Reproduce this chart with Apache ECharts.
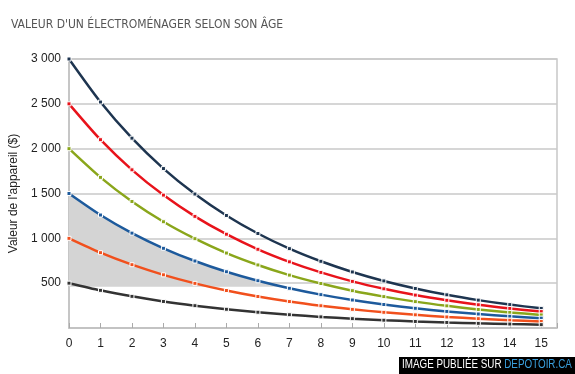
<!DOCTYPE html>
<html><head><meta charset="utf-8">
<script src="https://cdn.jsdelivr.net/npm/echarts@6/dist/echarts.min.js"></script>
<style>html,body{margin:0;padding:0;background:#fff}#c{width:575px;height:374px}</style>
</head><body><div id="c"></div>
<script>
const years = [0,1,2,3,4,5,6,7,8,9,10,11,12,13,14,15];
const s3000 = [3000,2520,2117,1778,1494,1255,1054,885,744,625,525,441,370,311,261,219];
const s2500 = [2500,2100,1764,1482,1245,1046,878,738,620,520,437,367,309,259,218,183];
const s2000 = [2000,1680,1411,1185,996,836,703,590,496,416,350,294,247,207,174,146];
const s1500 = [1500,1260,1058,889,747,627,527,443,372,312,262,220,185,156,131,110];
const s1000 = [1000,840,706,593,498,418,351,295,248,208,175,147,123,104,87,73];
const s500  = [500,420,353,296,249,209,176,148,124,104,87,73,62,52,44,37];
const bandFloor = 460;
const bandX = [0,1,2,3,4,5,6,6.8];
const bandY = [1500,1260,1058,889,747,627,527,460];
const colors = ['#1e3550','#e8131b','#8aa61b','#1d5a9c','#f1501d','#333333'];
const seriesData = [s3000,s2500,s2000,s1500,s1000,s500];

const chart = echarts.init(document.getElementById('c'));
const lines = seriesData.map((d,i)=>({
  type:'line', data: years.map((x,j)=>[x,d[j]]), smooth:0.25,
  symbol:'rect', symbolSize:4, showSymbol:true,
  lineStyle:{color:colors[i], width:2.5},
  itemStyle:{color:colors[i], borderColor:'#ffffff', borderWidth:1},
  z:5, silent:true
}));
chart.setOption({
  animation:false,
  title:{text:"VALEUR D'UN ÉLECTROMÉNAGER SELON SON ÂGE", left:6, top:14,
    textStyle:{fontFamily:'DejaVu Sans Condensed', fontSize:12, fontWeight:'normal', color:'#555'}},
  grid:{left:69, right:18, top:59, bottom:46, show:true, borderColor:'#c8c8c8', borderWidth:1.5},
  xAxis:{type:'value', min:0, max:15.5, interval:1,
    axisLine:{show:true, lineStyle:{color:'#c0c0c0', width:1.5}},
    axisTick:{show:true, inside:true, length:5, lineStyle:{color:'#aaa'}},
    splitLine:{show:false},
    axisLabel:{color:'#222', fontFamily:'Liberation Sans', fontSize:12, margin:10,
      formatter:v=> (Number.isInteger(v) && v<=15) ? String(v) : ''}},
  yAxis:{type:'value', min:0, max:3000, interval:500,
    name:"Valeur de l'appareil ($)", nameLocation:'middle', nameGap:41,
    nameTextStyle:{color:'#222', fontFamily:'Liberation Sans', fontSize:12},
    axisLine:{show:true, lineStyle:{color:'#c0c0c0', width:1.5}},
    axisTick:{show:false},
    splitLine:{lineStyle:{color:'#c8c8c8', width:1.5}},
    axisLabel:{color:'#222', fontFamily:'Liberation Sans', fontSize:12, margin:8,
      formatter:v=> v===0 ? '' : (v>=1000 ? Math.floor(v/1000)+' '+String(v%1000).padStart(3,'0') : String(v))}},
  graphic:[
    {type:'rect', x:399, y:357, shape:{width:176, height:17}, style:{fill:'#000'}, z:100},
    {type:'text', x:402, y:359, scaleX:0.82, z:101, style:{
      text:'{a|IMAGE PUBLIÉE SUR }{b|DEPOTOIR.CA}',
      rich:{a:{fill:'#fff', fontFamily:'Liberation Sans', fontSize:12},
            b:{fill:'#3a9fdc', fontFamily:'Liberation Sans', fontSize:12}}}}
  ],
  series:[
    {type:'line', data: bandX.map((x,j)=>[x,bandY[j]]), smooth:0.25, symbol:'none',
      lineStyle:{width:0}, areaStyle:{color:'#d4d4d4', opacity:1, origin:bandFloor}, z:2, silent:true}
  ].concat(lines)
});
</script></body></html>
